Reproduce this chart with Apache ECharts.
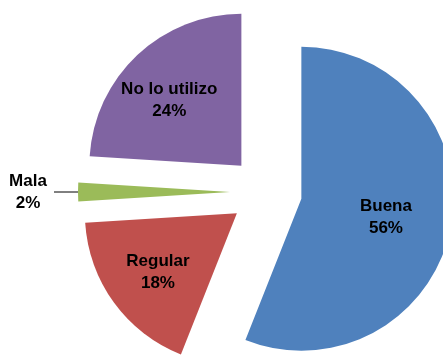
<!DOCTYPE html>
<html>
<head>
<meta charset="utf-8">
<script src="https://cdn.jsdelivr.net/npm/echarts@6/dist/echarts.min.js"></script>
<style>
html,body{margin:0;padding:0;background:#fff;}
#chart{width:443px;height:360px;}
</style>
</head>
<body>
<div id="chart"></div>
<script>
var categories = ['Buena', 'Regular', 'Mala', 'No lo utilizo'];
var values = [56, 18, 2, 24];
var colors = ['#4F81BD', '#C0504D', '#9BBB59', '#8064A2'];
var labelShift = [[7, 4], [-15, 13], [0, 0], [-18, -8]];

var FONT = 'Liberation Sans, Arial, sans-serif';
var chart = echarts.init(document.getElementById('chart'), null, {renderer: 'canvas'});

var data = categories.map(function (c, i) {
  var item = {
    name: c,
    value: values[i],
    selected: true,
    itemStyle: {color: colors[i]}
  };
  if (c === 'Mala') {
    item.label = {
      show: true,
      position: 'outside',
      formatter: '{a|{b}}\n{a|{d}%}',
      rich: {a: {width: 42, align: 'center', fontSize: 17, fontWeight: 'bold', color: '#000', lineHeight: 22, fontFamily: FONT}}
    };
    item.labelLine = {show: true, length: 8, length2: 16, smooth: false, lineStyle: {color: '#000', width: 1}};
  }
  return item;
});

chart.setOption({
  animation: false,
  series: [{
    type: 'pie',
    center: [266, 192],
    radius: 152,
    startAngle: 90,
    clockwise: true,
    selectedMode: 'multiple',
    selectedOffset: 36,
    avoidLabelOverlap: false,
    percentPrecision: 0,
    label: {
      show: true,
      position: 'inside',
      formatter: '{b}\n{d}%',
      color: '#000',
      fontSize: 17,
      fontWeight: 'bold',
      lineHeight: 22,
      fontFamily: FONT
    },
    labelLayout: function (p) {
      var s = labelShift[p.dataIndex];
      return {dx: s[0], dy: s[1]};
    },
    labelLine: {show: false},
    emphasis: {disabled: true},
    data: data
  }]
});
</script>
</body>
</html>
